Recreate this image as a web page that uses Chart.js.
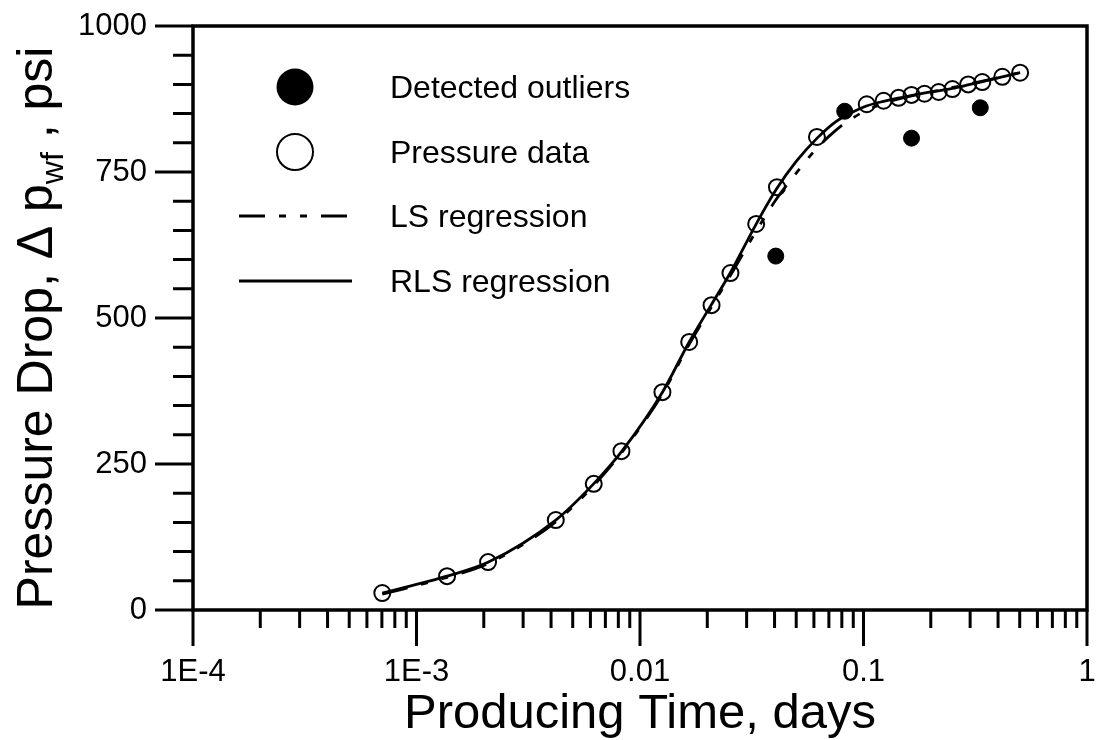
<!DOCTYPE html>
<html>
<head>
<meta charset="utf-8">
<script src="https://cdn.jsdelivr.net/npm/chart.js@4.4.0/dist/chart.umd.min.js"></script>
<style>
  html, body { margin: 0; padding: 0; background: #fff; }
  canvas { display: block; }
</style>
</head>
<body>
<canvas id="chart" width="1097" height="740"></canvas>
<script>
// open circles
const pressureTime = [0.000703, 0.00137, 0.00209, 0.0042, 0.00621, 0.00826, 0.0126, 0.0166, 0.0209, 0.0254,
                      0.0331, 0.041, 0.0619, 0.1034, 0.123, 0.1435, 0.164, 0.1875, 0.217, 0.25, 0.294, 0.34, 0.418, 0.502];
const pressureDrop = [29, 58, 82, 154, 216, 272, 373, 459, 522, 577,
                      661, 724, 810, 866, 872, 877, 882, 884, 887, 892, 900, 904, 913, 920];

// filled circles
const outlierTime = [0.0405, 0.0824, 0.164, 0.333];
const outlierDrop = [606, 854, 808, 860];

// LS regression (dash-dot)
const lsTime = [0.000703, 0.00137, 0.0021, 0.0042, 0.0062, 0.0083, 0.0126, 0.0166, 0.0208, 0.0254, 0.033,
                0.041, 0.05, 0.06, 0.07, 0.08, 0.09, 0.1, 0.12, 0.15, 0.2, 0.3, 0.502];
const lsDrop = [27, 56, 80, 151, 213, 270, 370, 455, 518, 573, 648,
                705, 748, 785, 811, 830, 843, 853, 866, 877, 887, 901, 920];

// RLS regression (solid)
const rlsTime = [0.000703, 0.00137, 0.0021, 0.0042, 0.0062, 0.0083, 0.0126, 0.0166, 0.0208, 0.0254, 0.033,
                 0.041, 0.05, 0.062, 0.075, 0.09, 0.103, 0.123, 0.15, 0.2, 0.25, 0.3, 0.4, 0.502];
const rlsDrop = [29, 58, 82, 154, 216, 272, 373, 459, 522, 578, 660,
                 722, 768, 808, 836, 853, 863, 871, 878, 887, 893, 900, 911, 920];

const xTickValues = [1e-4, 1e-3, 1e-2, 1e-1, 1];
const xTickLabels = ['1E-4', '1E-3', '0.01', '0.1', '1'];
const yTickValues = [0, 250, 500, 750, 1000];
const yTickLabels = ['0', '250', '500', '750', '1000'];
const legendLabels = ['Detected outliers', 'Pressure data', 'LS regression', 'RLS regression'];

const FONT = '"Liberation Sans", Arial, sans-serif';
const toPoints = (xs, ys) => xs.map((x, i) => ({ x: x, y: ys[i] }));

// box round the plot + major/minor ticks
const frameAndTicks = {
  id: 'frameAndTicks',
  afterDraw(chart) {
    const { ctx, chartArea: a, scales: { x, y } } = chart;
    ctx.save();
    ctx.strokeStyle = '#000';
    ctx.lineWidth = 3.5;
    ctx.strokeRect(a.left, a.top, a.right - a.left, a.bottom - a.top);
    ctx.lineWidth = 3;
    ctx.beginPath();
    for (let d = -4; d <= 0; d++) {
      for (let k = 1; k <= (d === 0 ? 1 : 9); k++) {
        const px = x.getPixelForValue(k * Math.pow(10, d));
        ctx.moveTo(px, a.bottom);
        ctx.lineTo(px, a.bottom + (k === 1 ? 36 : 18));
      }
    }
    for (let v = 0; v <= 1000; v += 50) {
      const py = y.getPixelForValue(v);
      ctx.moveTo(a.left, py);
      ctx.lineTo(a.left - (v % 250 === 0 ? 38 : 20), py);
    }
    ctx.stroke();
    ctx.restore();
  }
};

// y title with subscript
const yTitle = {
  id: 'yTitle',
  afterDraw(chart) {
    const { ctx, chartArea: a } = chart;
    const parts = [
      { t: 'Pressure Drop, \u0394 p', size: 50, dy: 0 },
      { t: 'wf', size: 32, dy: 11 },
      { t: ' , psi', size: 50, dy: 0 }
    ];
    ctx.save();
    let total = 0;
    parts.forEach(p => {
      ctx.font = p.size + 'px ' + FONT;
      p.w = ctx.measureText(p.t).width;
      total += p.w;
    });
    ctx.translate(52, (a.top + a.bottom) / 2 + 10);
    ctx.rotate(-Math.PI / 2);
    ctx.fillStyle = '#000';
    ctx.textBaseline = 'alphabetic';
    let x0 = -total / 2;
    parts.forEach(p => {
      ctx.font = p.size + 'px ' + FONT;
      ctx.fillText(p.t, x0, p.dy);
      x0 += p.w;
    });
    ctx.restore();
  }
};

// legend inside the plot
const legendBox = {
  id: 'legendBox',
  afterDraw(chart) {
    const { ctx, chartArea: a } = chart;
    const ds = chart.data.datasets;
    const cx = a.left + 102;
    const rows = [61, 126, 190, 255];
    ctx.save();
    ctx.strokeStyle = '#000';
    ctx.fillStyle = '#000';
    // outliers
    ctx.beginPath();
    ctx.arc(cx, a.top + rows[0], 18.5, 0, Math.PI * 2);
    ctx.fill();
    // pressure data
    ctx.lineWidth = 2;
    ctx.beginPath();
    ctx.arc(cx, a.top + rows[1], 18, 0, Math.PI * 2);
    ctx.stroke();
    // lines
    [2, 3].forEach((i, j) => {
      ctx.lineWidth = ds[i].borderWidth;
      ctx.setLineDash(ds[i].borderDash || []);
      ctx.beginPath();
      ctx.moveTo(a.left + 46, a.top + rows[2 + j]);
      ctx.lineTo(a.left + 159, a.top + rows[2 + j]);
      ctx.stroke();
    });
    ctx.setLineDash([]);
    ctx.font = '32px ' + FONT;
    ctx.textBaseline = 'middle';
    legendLabels.forEach((t, i) => ctx.fillText(t, a.left + 197, a.top + rows[i] + 2));
    ctx.restore();
  }
};

new Chart(document.getElementById('chart'), {
  type: 'scatter',
  data: {
    datasets: [
      { label: legendLabels[0], data: toPoints(outlierTime, outlierDrop), showLine: false,
        pointRadius: 8, pointBackgroundColor: '#000', pointBorderColor: '#000', pointBorderWidth: 1 },
      { label: legendLabels[1], data: toPoints(pressureTime, pressureDrop), showLine: false,
        pointRadius: 8, pointBackgroundColor: 'rgba(0,0,0,0)', pointBorderColor: '#000', pointBorderWidth: 2 },
      { label: legendLabels[2], data: toPoints(lsTime, lsDrop), showLine: true, borderColor: '#000',
        borderWidth: 2.8, borderDash: [26, 14, 7, 14, 7, 14], pointRadius: 0, cubicInterpolationMode: 'monotone' },
      { label: legendLabels[3], data: toPoints(rlsTime, rlsDrop), showLine: true, borderColor: '#000',
        borderWidth: 2.8, pointRadius: 0, cubicInterpolationMode: 'monotone' }
    ]
  },
  options: {
    responsive: false,
    animation: false,
    devicePixelRatio: 1,
    layout: { padding: { left: 0, right: 7, top: 26, bottom: 0 } },
    plugins: { legend: { display: false }, tooltip: { enabled: false } },
    scales: {
      x: {
        type: 'logarithmic', min: 1e-4, max: 1, position: 'bottom',
        afterBuildTicks: s => { s.ticks = xTickValues.map(v => ({ value: v })); },
        afterFit: s => { s.height = 130; s.paddingLeft = 0; s.paddingRight = 0; },
        ticks: { autoSkip: false, maxRotation: 0, minRotation: 0, padding: 44, color: '#000',
                 font: { family: FONT, size: 31 }, callback: (v, i) => xTickLabels[i] },
        grid: { display: false, drawTicks: false, tickLength: 0 },
        border: { display: false },
        title: { display: true, text: 'Producing Time, days', color: '#000',
                 font: { family: FONT, size: 49 }, padding: { top: 0, bottom: -4 } }
      },
      y: {
        type: 'linear', min: 0, max: 1000, position: 'left',
        afterBuildTicks: s => { s.ticks = yTickValues.map(v => ({ value: v })); },
        afterFit: s => { s.width = 193; s.paddingTop = 0; s.paddingBottom = 0; },
        ticks: { padding: 46, color: '#000', font: { family: FONT, size: 31 },
                 callback: (v, i) => yTickLabels[i] },
        grid: { display: false, drawTicks: false, tickLength: 0 },
        border: { display: false }
      }
    }
  },
  plugins: [frameAndTicks, yTitle, legendBox]
});
</script>
</body>
</html>
